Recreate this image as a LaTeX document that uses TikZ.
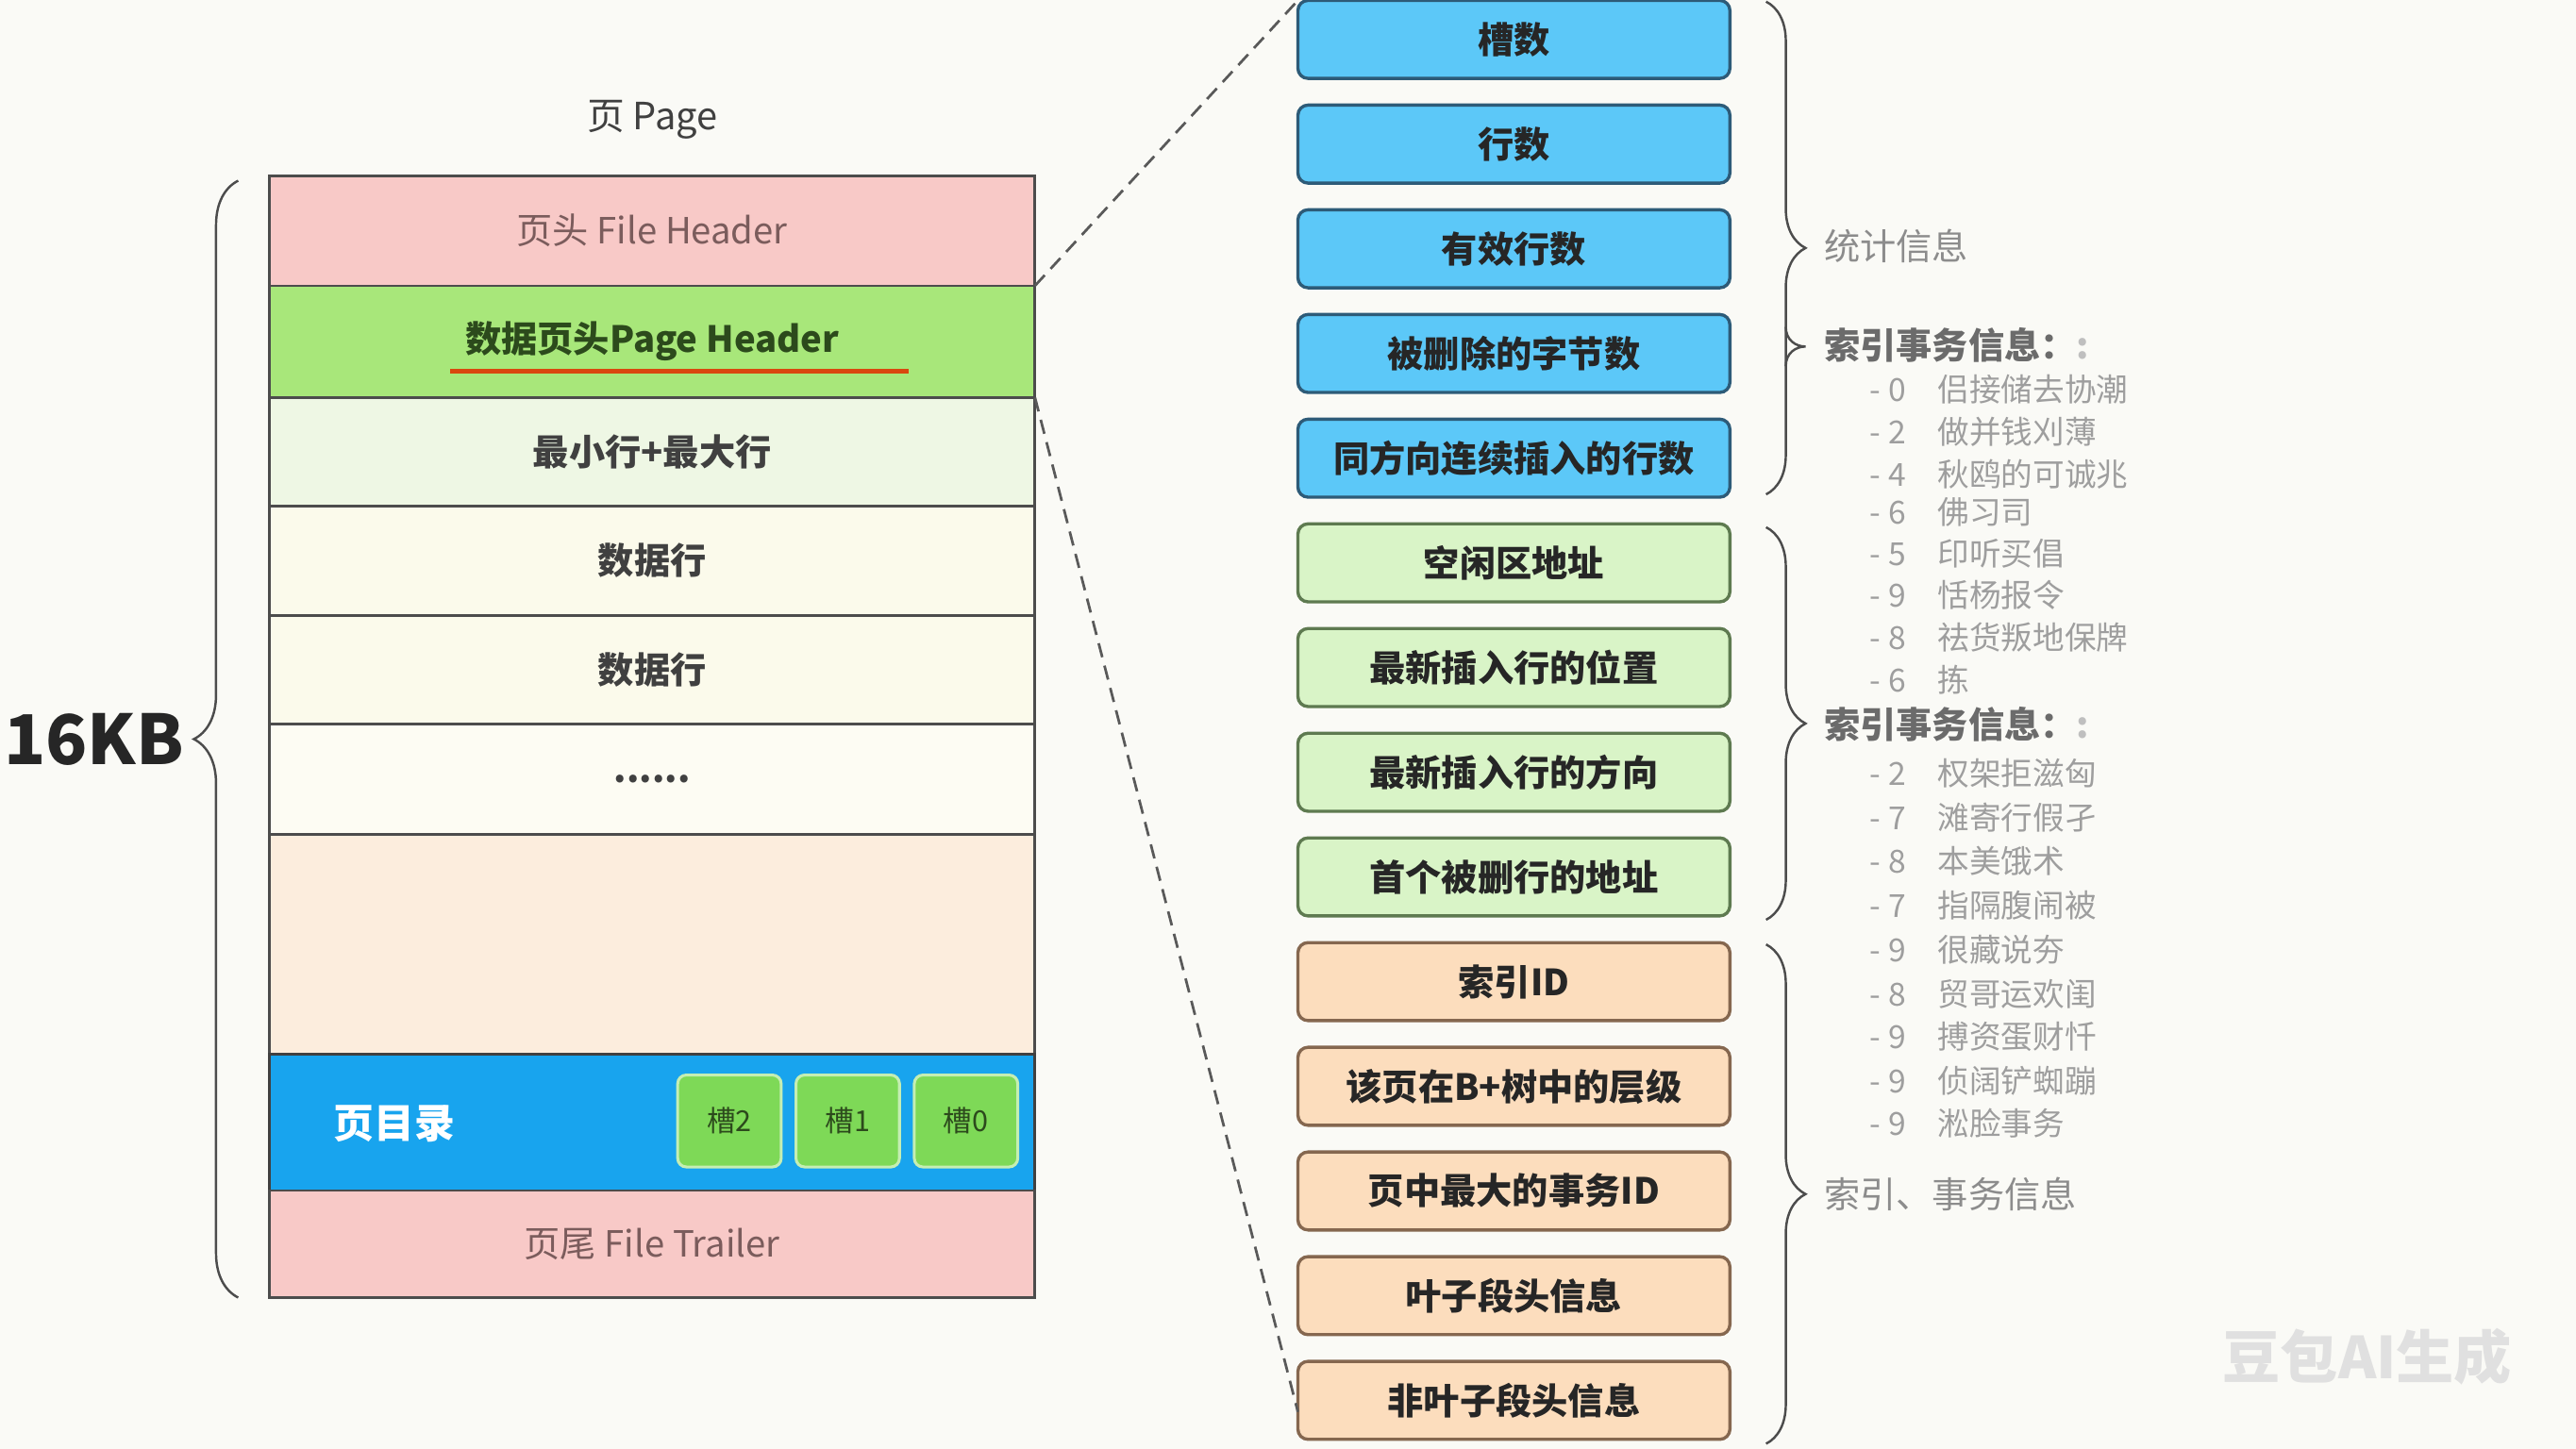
\documentclass[tikz,border=0pt]{standalone}
\usepackage{fontspec}
\setmainfont{Noto Sans CJK SC}
\usepackage{xcolor}
\usepackage{tikz}
\usetikzlibrary{calc,positioning,decorations.pathreplacing}
\definecolor{pgbg}{HTML}{FAFAF6}
\definecolor{pgpink}{HTML}{F8C9C7}
\definecolor{pgpinktxt}{HTML}{7B5C5C}
\definecolor{pggreen}{HTML}{A8E77A}
\definecolor{pggreentxt}{HTML}{2C4A1C}
\definecolor{pgmint}{HTML}{EEF7E4}
\definecolor{pgcream}{HTML}{FBFAEB}
\definecolor{pgpeach}{HTML}{FCEDDD}
\definecolor{pgblue}{HTML}{18A4EE}
\definecolor{pgslot}{HTML}{7ED957}
\definecolor{pgline}{HTML}{D9480F}
\definecolor{hdblue}{HTML}{5CC8F8}
\definecolor{hdblueline}{HTML}{2D5B78}
\definecolor{hdgreen}{HTML}{D9F4C7}
\definecolor{hdgreenline}{HTML}{5E7A50}
\definecolor{hdpeach}{HTML}{FCDDBD}
\definecolor{hdpeachline}{HTML}{85674F}

\begin{document}
\begin{tikzpicture}[
  x=0.02cm,y=-0.02cm,
  row/.style={draw=black!70,line width=0.9pt,minimum width=9.32cm,minimum height=1.33cm,outer sep=0pt,
              font=\bfseries\fontsize{12.5}{14}\selectfont,text=black!75},
  slot/.style={draw=pgslot!45,fill=pgslot,line width=1pt,rounded corners=3pt,minimum width=1.26cm,
               minimum height=1.12cm,font=\fontsize{10}{12}\selectfont,text=pggreentxt},
  field/.style={draw,line width=1.1pt,rounded corners=3.5pt,minimum width=5.26cm,minimum height=0.95cm,
                outer sep=0pt,font=\bfseries\fontsize{12.5}{14}\selectfont,text=black!85},
  stat/.style={field,fill=hdblue,draw=hdblueline},
  free/.style={field,fill=hdgreen,draw=hdgreenline},
  idx/.style={field,fill=hdpeach,draw=hdpeachline},
  grp/.style={decorate,decoration={brace,amplitude=0.48cm},line width=0.8pt,black!70},
  note/.style={anchor=west,inner sep=0pt,font=\fontsize{12.5}{14}\selectfont,text=black!45},
  item/.style={anchor=west,inner sep=0pt,font=\fontsize{11}{12}\selectfont,text=black!38},
  zoomline/.style={dashed,line width=0.9pt,black!65,dash pattern=on 5pt off 3pt}
]
  \fill[pgbg] (0,0) rectangle (1568,882);
  \useasboundingbox (0,0) rectangle (1568,882);

  \node[font=\fontsize{13}{15}\selectfont,text=black!75] (title) at (397,73) {页 Page};
  \node[row,fill=pgpink,minimum height=1.34cm,font=\fontsize{12.5}{14}\selectfont,text=pgpinktxt] (fh) at (397,140.5) {页头 File Header};
  \node[row,fill=pggreen,minimum height=1.36cm,text=pggreentxt,below=0pt of fh] (ph) {数据页头Page Header};
  \node[row,fill=pgmint,minimum height=1.32cm,below=0pt of ph] (mm) {最小行+最大行};
  \node[row,fill=pgcream,minimum height=1.34cm,below=0pt of mm] (d1) {数据行};
  \node[row,fill=pgcream,minimum height=1.32cm,below=0pt of d1] (d2) {数据行};
  \node[row,fill=pgcream!60,minimum height=1.34cm,below=0pt of d2] (dots) {......};
  \node[row,fill=pgpeach,minimum height=2.68cm,below=0pt of dots] (freesp) {};
  \node[row,fill=pgblue,draw=black!75,minimum height=1.66cm,below=0pt of freesp] (dir) {};
  \node[row,fill=pgpink,minimum height=1.30cm,font=\fontsize{12.5}{14}\selectfont,text=pgpinktxt,below=0pt of dir] (ft) {页尾 File Trailer};
  \draw[pgline,line width=1.6pt] ($(ph.center)+(-123,18)$) -- ($(ph.center)+(156,18)$);

  \node[font=\bfseries\fontsize{14}{16}\selectfont,text=white] (dirlbl) at (240,684) {页目录};
  \node[slot] (c2) at (444,682.5) {槽2};
  \node[slot] (c1) at (516,682.5) {槽1};
  \node[slot] (c0) at (588,682.5) {槽0};

  \node[anchor=west,inner sep=0pt,font=\bfseries\fontsize{23.8}{26}\selectfont,text=black!85] (size) at (2,450) {16KB};
  \draw[grp,decoration={amplitude=0.54cm}] (145,790) -- (145,110);

  \node[stat] (slotcnt) at (921.5,24) {槽数};
  \node[stat,below=3.25mm of slotcnt] (rowcnt) {行数};
  \node[stat,below=3.25mm of rowcnt] (validcnt) {有效行数};
  \node[stat,below=3.25mm of validcnt] (delbytes) {被删除的字节数};
  \node[stat,below=3.25mm of delbytes] (dircnt) {同方向连续插入的行数};
  \node[free,below=3.25mm of dircnt] (freeaddr) {空闲区地址};
  \node[free,below=3.25mm of freeaddr] (lastpos) {最新插入行的位置};
  \node[free,below=3.25mm of lastpos] (lastdir) {最新插入行的方向};
  \node[free,below=3.25mm of lastdir] (delhead) {首个被删行的地址};
  \node[idx,below=3.25mm of delhead] (idxid) {索引ID};
  \node[idx,below=3.25mm of idxid] (level) {该页在B+树中的层级};
  \node[idx,below=3.25mm of level] (maxtrx) {页中最大的事务ID};
  \node[idx,below=3.25mm of maxtrx] (leafseg) {叶子段头信息};
  \node[idx,below=3.25mm of leafseg] (nleafseg) {非叶子段头信息};

  \draw[zoomline] (ph.north east) -- (slotcnt.north west);
  \draw[zoomline] (ph.south east) -- ([yshift=-4pt]nleafseg.west);

  \draw[grp] (1075,1) -- (1075,301);
  \draw[black!70,line width=0.8pt] (1087,199) .. controls (1087,207) and (1093,211) .. (1099,211)
    .. controls (1093,211) and (1087,215) .. (1087,223);
  \draw[grp] (1075,321) -- (1075,560);
  \draw[grp] (1075,575) -- (1075,879);

  \node[note] (stats) at (1110,150) {统计信息};
  \node[note,font=\bfseries\fontsize{12.5}{14}\selectfont,text=black!58] (trx1) at (1110,210) {索引事务信息：\textcolor{black!25}{:}};
  \node[item] (i1) at (1138,237) {- 0\quad 侣接储去协潮};
  \node[item] (i2) at (1138,263) {- 2\quad 做并钱刈薄};
  \node[item] (i3) at (1138,289) {- 4\quad 秋鸥的可诚兆};
  \node[item] (i4) at (1138,312) {- 6\quad 佛习司};
  \node[item] (i5) at (1138,337) {- 5\quad 印听买倡};
  \node[item] (i6) at (1138,362) {- 9\quad 恬杨报令};
  \node[item] (i7) at (1138,388) {- 8\quad 祛货叛地保牌};
  \node[item] (i8) at (1138,414) {- 6\quad 拣};
  \node[note,font=\bfseries\fontsize{12.5}{14}\selectfont,text=black!58] (trx2) at (1110,441) {索引事务信息：\textcolor{black!25}{:}};
  \node[item] (j1) at (1138,471) {- 2\quad 权架拒滋匈};
  \node[item] (j2) at (1138,498) {- 7\quad 滩寄行假孑};
  \node[item] (j3) at (1138,524) {- 8\quad 本美饿术};
  \node[item] (j4) at (1138,551) {- 7\quad 指隔腹闹被};
  \node[item] (j5) at (1138,578) {- 9\quad 很藏说夯};
  \node[item] (j6) at (1138,605) {- 8\quad 贸哥运欢闺};
  \node[item] (j7) at (1138,631) {- 9\quad 搏资蛋财忏};
  \node[item] (j8) at (1138,658) {- 9\quad 侦阔铲蜘蹦};
  \node[item] (j9) at (1138,684) {- 9\quad 淞脸事务};
  \node[note] (trx3) at (1110,727) {索引、事务信息};

  \node[font=\bfseries\fontsize{20}{22}\selectfont,text=black!12] (mark) at (1441,826) {豆包AI生成};
\end{tikzpicture}
\end{document}
